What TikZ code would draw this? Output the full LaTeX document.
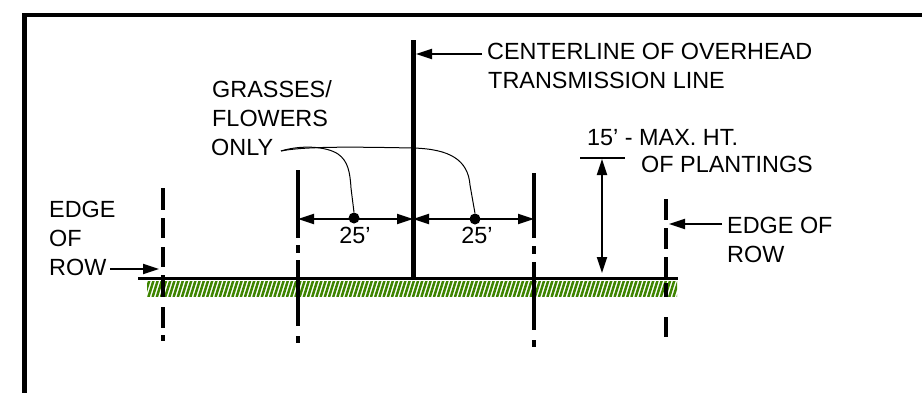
\documentclass[tikz,border=0pt]{standalone}
\usepackage{fontspec}
\setmainfont{Liberation Sans}
\usetikzlibrary{arrows.meta}
\definecolor{grassgreen}{RGB}{62,132,0}
\tikzset{
  lbl/.style={anchor=base west, inner sep=0pt, font=\fontsize{23.4}{28}\selectfont},
  clbl/.style={anchor=base, inner sep=0pt, font=\fontsize{23.4}{28}\selectfont},
  heavy/.style={line width=4.6pt},
  pole/.style={line width=5pt},
  ground/.style={line width=3pt},
  tip/.tip={Triangle[length=16pt,width=10pt]},
  dimline/.style={line width=2pt, tip-tip},
  ptr/.style={line width=1.8pt, -tip},
  leader/.style={line width=1pt},
  hatch/.style={line width=2.5pt, draw=grassgreen},
  frame/.style={line width=4.6pt}
}
\begin{document}
\begin{tikzpicture}[x=1pt,y=-1pt]
\useasboundingbox (0,0) rectangle (922,392);
\begin{scope}
  \clip (0,0) rectangle (922,392);
  \draw[frame] (24.5,15) rectangle (980,430);
\end{scope}

% grass hatch
\begin{scope}
  \clip (147,281) rectangle (677,296);
  \foreach \x in {140,144.2,...,680} {
    \draw[hatch] (\x,297) -- (\x+5.3,280);
  }
\end{scope}

% ground
\coordinate (gL) at (138,278);
\coordinate (gR) at (678,278);
\draw[ground] (gL) -- (gR);

% pole (centerline)
\coordinate (poleT) at (413,40);
\coordinate (poleB) at (413,278);
\draw[pole] (poleT) -- (poleB);

% left edge of ROW (dashed)
\foreach \a/\b in {188/210,218/238,247/267,275/297,307/328,335/341}
  \draw[heavy] (163,\a) -- (163,\b);
% inner left line
\foreach \a/\b in {170/238,245/253,260/326,336/343}
  \draw[heavy] (298,\a) -- (298,\b);
% inner right line
\foreach \a/\b in {173/238,246/254,262/330,340/347}
  \draw[heavy] (534,\a) -- (534,\b);
% right edge of ROW
\foreach \a/\b in {199/220,228/249,257/277,283/297,317/337}
  \draw[heavy] (666,\a) -- (666,\b);

% dimension lines
\coordinate (dL) at (298,219);
\coordinate (dC) at (413,219);
\coordinate (dR) at (534,219);
\draw[dimline] (dL) -- (dC);
\draw[dimline] (dC) -- (dR);
\node[circle, fill=black, inner sep=0pt, minimum size=11pt] (dotL) at (354,218) {};
\node[circle, fill=black, inner sep=0pt, minimum size=11pt] (dotR) at (475,219) {};
\node[clbl] (d1) at (355,243) {25’};
\node[clbl] (d2) at (477,243) {25’};

% texts
\node[lbl] (cl1) at (487,59) {CENTERLINE OF OVERHEAD};
\node[lbl] (cl2) at (488,88) {TRANSMISSION LINE};
\node[lbl] (g1) at (212,97) {GRASSES/};
\node[lbl] (g2) at (212,126) {FLOWERS};
\node[lbl] (g3) at (211,155) {ONLY};
\node[lbl] (el1) at (49,217) {EDGE};
\node[lbl] (el2) at (49,246) {OF};
\node[lbl] (el3) at (49,275) {ROW};
\node[lbl] (er1) at (727,233) {EDGE OF};
\node[lbl] (er2) at (727,262) {ROW};
\node[lbl] (h1) at (587,145) {15’ - MAX. HT.};
\node[lbl] (h2) at (641,172) {OF PLANTINGS};

% pointer arrows
\coordinate (clA) at (482,54);
\coordinate (clT) at (416,54);
\draw[ptr] (clA) -- (clT);
\coordinate (elA) at (110,269);
\coordinate (elT) at (159,269);
\draw[ptr] (elA) -- (elT);
\coordinate (erA) at (722,224);
\coordinate (erT) at (669,224);
\draw[ptr] (erA) -- (erT);

% max height
\coordinate (hL) at (580,158);
\coordinate (hR) at (625,158);
\draw[line width=2pt] (hL) -- (hR);
\coordinate (hT) at (602,159);
\coordinate (hB) at (602,273);
\draw[dimline] (hT) -- (hB);

% leaders
\coordinate (ldS) at (281,151);
\draw[leader] (ldS) .. controls (300,145) and (326,146) .. (338,154)
  .. controls (348,161) and (350,172) .. (351,188) -- (dotL.north);
\draw[leader] (ldS) .. controls (305,146) and (360,147) .. (413,148)
  .. controls (450,149) and (468,160) .. (470,185) -- (dotR.north);
\end{tikzpicture}
\end{document}
